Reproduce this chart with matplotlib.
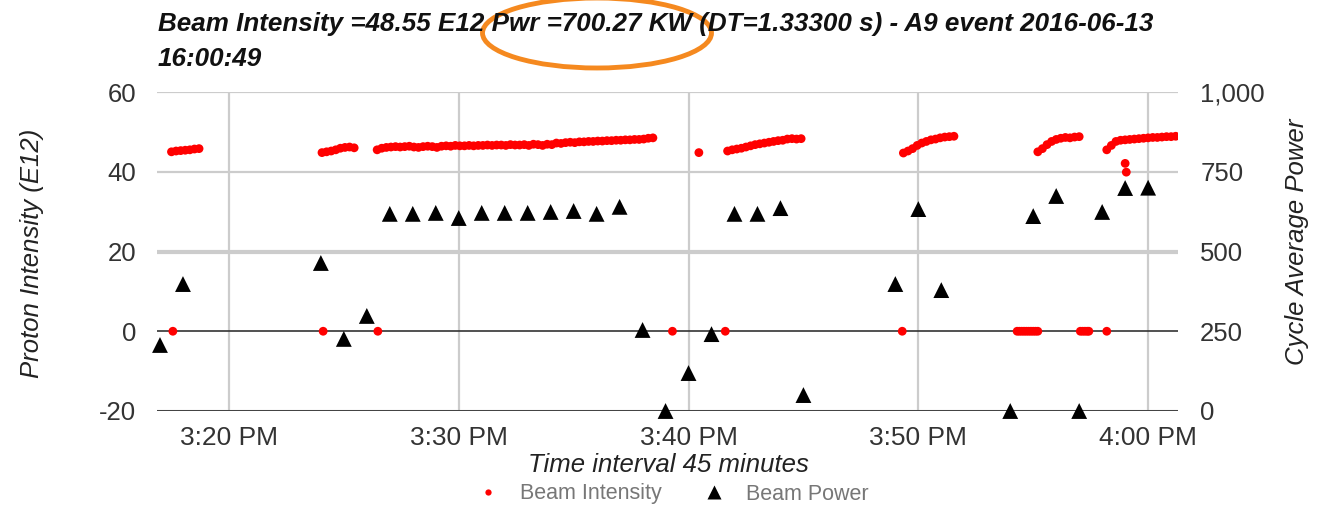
import numpy as np
import matplotlib
matplotlib.use("Agg")
import matplotlib.pyplot as plt
from matplotlib.patches import Ellipse
from matplotlib.lines import Line2D

plt.rcParams['font.family'] = ['Liberation Sans', 'DejaVu Sans']

# ---------------- data (x = minutes after 3:00 PM) ----------------
x_ticks = [20, 30, 40, 50, 60]
x_tick_labels = ["3:20 PM", "3:30 PM", "3:40 PM", "3:50 PM", "4:00 PM"]
left_ticks = [-20, 0, 20, 40, 60]
left_tick_labels = ["-20", "0", "20", "40", "60"]
right_ticks = [0, 250, 500, 750, 1000]
right_tick_labels = ["0", "250", "500", "750", "1,000"]

# Beam power (one point per minute)
power_minutes = [17, 18, 24, 25, 26, 27, 28, 29, 30, 31, 32, 33, 34, 35, 36, 37,
                 38, 39, 40, 41, 42, 43, 44, 45, 49, 50, 51, 54, 55, 56, 57, 58, 59, 60]
power_values = [207, 398, 464, 226, 298, 618, 618, 621, 605, 621, 621, 621, 624, 627, 618, 640,
                254, 0, 119, 241, 618, 618, 636, 50, 398, 633, 379, 0, 611, 674, 0, 624, 699, 700]

# Beam intensity: pulses sampled every SAMPLE_STEP minutes, per beam segment
SAMPLE_STEP = 0.2
seg1_start = 17.5
seg1_vals = [45.0, 45.2, 45.3, 45.4, 45.5, 45.7, 45.8]
seg2_start = 24.05
seg2_vals = [44.8, 45.0, 45.2, 45.5, 45.9, 46.1, 46.2, 46.0]
seg3_start = 26.45
seg3_vals = [45.5, 45.9, 46.1, 46.2, 46.3, 46.2, 46.3, 46.4, 46.2, 46.1,
             46.3, 46.4, 46.3, 46.1, 46.4, 46.5, 46.4, 46.6, 46.5, 46.5,
             46.6, 46.5, 46.6, 46.6, 46.7, 46.6, 46.7, 46.7, 46.6, 46.8,
             46.7, 46.7, 46.8, 46.6, 46.9, 46.8, 46.6, 46.9, 46.8, 47.2,
             47.1, 47.3, 47.4, 47.3, 47.5, 47.5, 47.6, 47.6, 47.7, 47.7,
             47.8, 47.8, 47.9, 47.9, 48.0, 48.0, 48.1, 48.1, 48.2, 48.4, 48.5]
seg4_start = 40.45
seg4_vals = [44.8]
seg5_start = 41.7
seg5_vals = [45.2, 45.5, 45.7, 45.9, 46.2, 46.5, 46.8, 47.0, 47.2, 47.4,
             47.6, 47.8, 47.9, 48.2, 48.3, 48.2, 48.3]
seg6_start = 49.35
seg6_vals = [44.7, 45.2, 45.8, 46.6, 47.2, 47.6, 48.0, 48.2, 48.5, 48.7, 48.8, 48.9]
seg7_start = 55.2
seg7_vals = [45.0, 45.8, 46.8, 47.6, 48.1, 48.4, 48.6, 48.5, 48.7, 48.8]
seg8_start = 58.2
seg8_vals = [45.5, 46.6, 47.6, 47.9, 48.0, 48.1, 48.2, 48.3, 48.4, 48.5,
             48.6, 48.6, 48.7, 48.8, 48.8, 48.9]
# stray low pulses
stray_minutes = [59.0, 59.05]
stray_vals = [42.1, 39.9]
# zero-intensity pulses
zero_minutes = [17.56, 24.1, 26.48, 39.3, 41.6, 49.3,
                54.3, 54.4, 54.5, 54.6, 54.7, 54.8, 54.9, 55.0, 55.1, 55.2,
                57.05, 57.15, 57.25, 57.35, 57.42, 58.2]
zero_vals = [0] * len(zero_minutes)

segments = [(seg1_start, seg1_vals), (seg2_start, seg2_vals), (seg3_start, seg3_vals),
            (seg4_start, seg4_vals), (seg5_start, seg5_vals), (seg6_start, seg6_vals),
            (seg7_start, seg7_vals), (seg8_start, seg8_vals)]

int_x, int_y = [], []
for start, vals in segments:
    int_x.extend(start + SAMPLE_STEP * np.arange(len(vals)))
    int_y.extend(vals)
int_x.extend(stray_minutes); int_y.extend(stray_vals)
int_x.extend(zero_minutes); int_y.extend(zero_vals)

# ---------------- figure ----------------
W, H = 1337, 508
fig = plt.figure(figsize=(W / 100, H / 100), dpi=100)
L, R, T, B = 157, 1178, 92, 411
ax = fig.add_axes([L / W, 1 - B / H, (R - L) / W, (B - T) / H])
ax2 = ax.twinx()

ax.set_xlim(16.87, 61.3)
ax.set_ylim(-20, 60)
ax2.set_ylim(0, 1000)

for a in (ax, ax2):
    for s in a.spines.values():
        s.set_visible(False)
    a.tick_params(length=0, labelsize=18.5, labelcolor='#333333')

# grid
for xt in x_ticks:
    ax.axvline(xt, color='#cccccc', lw=1.6, zorder=0)
ax.axhline(60, color='#cccccc', lw=1.6, zorder=0)
ax.axhline(40, color='#cccccc', lw=1.6, zorder=0)
ax.axhline(20, color='#cccccc', lw=3.0, zorder=0)
ax.axhline(0, color='#333333', lw=1.2, zorder=1)
ax.axhline(-20, color='#444444', lw=2.2, zorder=1)

ax.set_xticks(x_ticks)
ax.set_xticklabels(x_tick_labels)
ax.set_yticks(left_ticks)
ax.set_yticklabels(left_tick_labels)
ax2.set_yticks(right_ticks)
ax2.set_yticklabels(right_tick_labels)
ax.tick_params(axis='x', pad=11, labelsize=19)
ax.tick_params(axis='y', pad=15)
ax2.tick_params(axis='y', pad=16)

ax.scatter(int_x, int_y, s=40, color='#ff0000', edgecolors='none', zorder=3)
ax2.scatter(power_minutes, power_values, s=130, marker='^', color='black',
            edgecolors='none', zorder=4, clip_on=False)

# texts
fig.text(158 / W, 1 - 24 / H,
         "Beam Intensity =48.55 E12 Pwr =700.27 KW (DT=1.33300 s) - A9 event 2016-06-13",
         fontsize=18.7, fontweight='bold', fontstyle='italic', ha='left', va='center', color='#111111')
fig.text(158 / W, 1 - 59 / H, "16:00:49",
         fontsize=18.7, fontweight='bold', fontstyle='italic', ha='left', va='center', color='#111111')
fig.text(668 / W, 1 - 465 / H, "Time interval 45 minutes",
         fontsize=18.5, fontstyle='italic', ha='center', va='center', color='#222222')
fig.text(32 / W, 1 - 253 / H, "Proton Intensity (E12)", rotation=90,
         fontsize=18.5, fontstyle='italic', ha='center', va='center', color='#222222')
fig.text(1297 / W, 1 - 242 / H, "Cycle Average Power", rotation=90,
         fontsize=18.5, fontstyle='italic', ha='center', va='center', color='#222222')

ell = Ellipse((597 / W, 1 - 33 / H), 229 / W, 70 / H, transform=fig.transFigure,
              fill=False, edgecolor='#f5891f', lw=3.5)
fig.add_artist(ell)

handles = [Line2D([], [], ls='none', marker='o', ms=4.5, color='#ff0000', mec='none'),
           Line2D([], [], ls='none', marker='^', ms=10, color='black', mec='none')]
fig.legend(handles, ["Beam Intensity", "Beam Power"], loc='center',
           bbox_to_anchor=(672 / W, 1 - 494 / H), ncol=2, frameon=False,
           labelcolor='#777777', fontsize=15.5, handletextpad=0.9, columnspacing=1.8,
           handlelength=1.2)

fig.savefig("out.png", dpi=100)
